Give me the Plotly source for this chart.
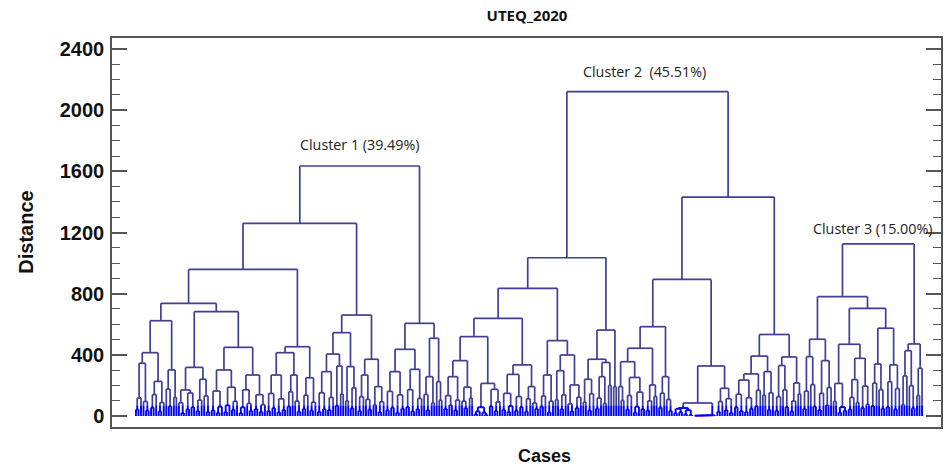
import plotly.graph_objects as go

# ---------------- data: merge heights (Distance) of the dendrogram ----------------
# Upper structure of each cluster (Newick-like: "(A B)height", "." = one case);
# {k} placeholders are filled with the small low-level bushes listed below.
CLUSTER1_TOP = (
    "(("
    "((((({0}{1})345({2}{3})226)414({4}{5})301)623"
    "((({6}{7})170({8}{9})240)318(({10}{11})301({12}{13})268)449)682)737"
    "((({14}{15})268({16}{17})268)414({18}{19})250)453)959"
    "(((({20}{21})290({22}{23})327)405({24}{25})323)545(({26}{27})268({28}{29})192)371)660)1260"
    "((({30}{31})290({32}{33})305)436(({34}{35})257({36}{37})224)508)606)1635"
)
CLUSTER1_BUSHES = [
    "((..)42.)118", "(.(..)36)95", "((..)55.)140", "((..)30.)88", "(.(..)64)176", "(..)122",
    "(.(..)20)87", "((..)44(..)58)150", "((..)33.)104", "(.(..)27)131",
    "((..)38((..)22.)61)163", "(((..)25.)70((..)41.)96)188",
    "(((..)19.)57(.(..)35)82)171", "((..)46((..)28.)74)139",
    "((..)31(..)52)147", "((..)24(..)40)112", "((..)63.)158", "(.(..)29)97",
    "((..)47.)136", "((..)35.)90", "((..)28(..)45)152", "((..)39.)121", "(..)68", "(..)143",
    "(..)99", "((..)51.)184", "((..)33.)126", "(.(..)42)109", "(..)74", "((..)26.)93",
    "((..)37(..)55)161", "((..)22(..)48)138", "((..)59(..)31)172", "((..)44.)115",
    "(.(..)38)141", "(..)86", ".", "(..)103",
]

CLUSTER2_TOP = (
    "((("
    "(((({0}{1})257({2}{3})188)362(({4}{5})57({6}{7})174)213)519(({8}{9})272({10}{11})192)334)639"
    "(({12}{13})268(({14}{15})296({16}{17})203)399)493)835"
    "((({18}{19})240(({20}{21})257({22}{23})200)350)371({24}{25})192)562)1035"
    "(((((({26}{27})192({28}{29})252)355({30}{31})203)443({32}{33})257)584"
    "(({34}{35})85({36}{37})181)327)893"
    "(((({38}{39})235{40})275({41}{42})290)392(({43}{44})330({45}{46})216)386)533)1432)2121"
)
CLUSTER2_BUSHES = [
    "((..)46(..)71)133", "((..)38.)104", "(.(..)52)97", "(..)118", "((..)12.)30", "(.(..)9)22",
    "(..)64", "((..)33.)92", "((..)41((..)27.)66)148", "((..)35(..)58)127", "((..)29.)112",
    "(.(..)47)85", "((..)62.)131", "((..)25.)96", "(..)107", "((..)44.)138", "(.(..)31)79",
    "((..)53.)122", "(..)91", "((..)36.)145", "((..)49.)117", "(..)83", ".", ".", ".", ".",
    ".", "(..)102", "((..)42.)134", "(((..)23.)61(..)45)156", "((..)37.)99", "(..)128",
    "((..)55.)149", "(.(..)34)108", "(((..)18(..)26)47((..)12(..)8)38)52",
    "((((((((..)2.)2.)3.)3.)4.)4.)5.)5", "((..)28.)94", "((..)39(..)21)113",
    "((..)57(..)33)142", "((..)26(..)48)119", "((..)64.)168", "(..)137", "((..)41.)152",
    "((..)35.)126", "(.(..)58)171", "((..)30.)98", "(..)144",
]

CLUSTER3_TOP = (
    "(((({0}{1})388({2}{3})362)502((({4}{5})213({6}{7})377)469(({8}{9})340({10}{11})334)574)704)780"
    "(({12}{13})427({14}{15})312)471)1125"
)
CLUSTER3_BUSHES = [
    "((..)47.)163", "(.(..)62)205", "((..)39.)148", "((..)71.)186", "(..)96",
    "((..)22(..)35)58", "(((..)44.)121(..)88)238", "((..)53(..)77)196", "((..)66.)215",
    "(.(..)49)172", "((..)58.)224", "((..)43.)179", "((..)75.)262", "(.(..)51)198",
    "(..)134", ".",
]

CLUSTER_LABELS = ["Cluster 1 (39.49%)", "Cluster 2  (45.51%)", "Cluster 3 (15.00%)"]
Y_TICKS = [0, 400, 800, 1200, 1600, 2000, 2400]


# ---------------- parse and lay out (leaf order, node x = midpoint of children) ----------------
def parse(s):
    s = "".join(s.split())
    pos = 0

    def rec():
        nonlocal pos
        if s[pos] == ".":
            pos += 1
            return None
        pos += 1
        kids = []
        while s[pos] != ")":
            kids.append(rec())
        pos += 1
        st = pos
        while pos < len(s) and s[pos].isdigit():
            pos += 1
        return (float(s[st:pos]), kids)

    return rec()


counter = [0]
links = []


def layout(node):
    if node is None:
        x = counter[0]
        counter[0] += 1
        return x, 0.0
    h, kids = node
    pts = [layout(k) for k in kids]
    (x1, y1), (x2, y2) = pts[0], pts[-1]
    links.append((h, x1, y1, x2, y2))
    return (x1 + x2) / 2.0, h


roots = []
for top, bushes in [(CLUSTER1_TOP, CLUSTER1_BUSHES), (CLUSTER2_TOP, CLUSTER2_BUSHES),
                    (CLUSTER3_TOP, CLUSTER3_BUSHES)]:
    roots.append(layout(parse(top.format(*bushes))))
N = counter[0]

# colour by height band: the dense low part of the tree is drawn in bright blue
NAVY = "#3f3f95"
BLUE = "#0000ff"
BAND = 70

nx, ny, bx, by = [], [], [], []
for h, x1, y1, x2, y2 in links:
    for xl, yl in ((x1, y1), (x2, y2)):
        if h <= BAND:
            bx += [xl, xl, None]; by += [yl, h, None]
        elif yl >= BAND:
            nx += [xl, xl, None]; ny += [yl, h, None]
        else:
            bx += [xl, xl, None]; by += [yl, BAND, None]
            nx += [xl, xl, None]; ny += [BAND, h, None]
    if h <= BAND:
        bx += [x1, x2, None]; by += [h, h, None]
    else:
        nx += [x1, x2, None]; ny += [h, h, None]

fig = go.Figure()
fig.add_trace(go.Scatter(x=nx, y=ny, mode="lines", line=dict(color=NAVY, width=1.7),
                         hoverinfo="skip", showlegend=False))
fig.add_trace(go.Scatter(x=bx, y=by, mode="lines", line=dict(color=BLUE, width=1.9),
                         hoverinfo="skip", showlegend=False))

# pixel geometry of the reference frame
L_PX, R_PX, LEAF0_PX, LEAFN_PX = 112, 943, 136, 924
ppl = (LEAFN_PX - LEAF0_PX) / (N - 1)
xr = [-(LEAF0_PX - L_PX) / ppl, N - 1 + (R_PX - LEAFN_PX) / ppl]

shifts = [(0, 21), (-3, 20), (-6, 15)]
for (rx, rh), lab, (xs, ys) in zip(roots, CLUSTER_LABELS, shifts):
    fig.add_annotation(x=rx, y=rh, text=lab, showarrow=False, xshift=xs, yshift=ys,
                       font=dict(family="Open Sans", size=14.3, color="#222222"))

AX = "#555555"
fig.update_xaxes(range=xr, showticklabels=False, ticks="", showgrid=False, zeroline=False,
                 showline=True, linecolor=AX, linewidth=1.5, mirror=True)
fig.update_yaxes(range=[-72, 2472], tickvals=Y_TICKS, ticks="inside", ticklen=15, tickwidth=1.5,
                 tickcolor=AX, showgrid=False, zeroline=False, showline=True, linecolor=AX,
                 linewidth=1.5, mirror="allticks", ticklabelstandoff=2,
                 minor=dict(ticks="inside", ticklen=8, dtick=100, tickwidth=1.2, tickcolor=AX,
                            showgrid=False),
                 tickfont=dict(family="Liberation Sans, Arial", size=20, color="#111111",
                               weight="bold"))

fig.add_annotation(xref="paper", yref="paper", x=(546 - 112) / 831, y=(427 - 456) / 389,
                   text="Cases", showarrow=False, yanchor="middle",
                   font=dict(family="Liberation Sans, Arial", size=18, color="#111111",
                             weight="bold"))
fig.add_annotation(xref="paper", yref="paper", x=(25 - 112) / 831, y=0.5, textangle=-90,
                   text="Distance", showarrow=False, xanchor="center",
                   font=dict(family="Liberation Sans, Arial", size=20, color="#111111",
                             weight="bold"))

fig.update_layout(
    width=945, height=470, margin=dict(l=112, r=2, t=38, b=43),
    paper_bgcolor="white", plot_bgcolor="white",
    title=dict(text="UTEQ_2020", x=527 / 945, xanchor="center", y=1 - 16 / 470,
               yanchor="middle", font=dict(family="Open Sans", size=15, color="#111111",
                                          weight="bold")),
)

fig.write_html("out.html", config={"displayModeBar": False},
               post_script="document.body.style.margin='0px';document.body.style.overflow='hidden';")
